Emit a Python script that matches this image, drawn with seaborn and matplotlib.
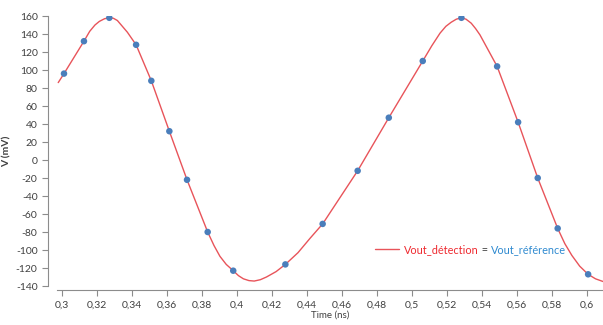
import numpy as np
import pandas as pd
import seaborn as sns
import matplotlib.pyplot as plt

sns.set_theme(style="white")
plt.rcParams['font.family'] = ['Lato', 'DejaVu Sans']

# Vout_détection curve
curve_t = [0.298, 0.3013, 0.3127, 0.316, 0.319, 0.3215, 0.3245, 0.3272, 0.3295,
           0.3318, 0.334, 0.3375, 0.3425, 0.3512, 0.3615, 0.3716, 0.3834, 0.387,
           0.3904, 0.394, 0.398, 0.401, 0.4038, 0.407, 0.41, 0.4135, 0.417,
           0.4225, 0.4278, 0.435, 0.4419, 0.4491, 0.4691, 0.4869, 0.5063,
           0.5115, 0.5162, 0.5195, 0.5225, 0.5255, 0.5284, 0.531, 0.534,
           0.5365, 0.539, 0.5488, 0.5608, 0.572, 0.5834, 0.5875, 0.5915,
           0.596, 0.6008, 0.605, 0.6093]
curve_v = [86, 96, 132, 143, 150, 154, 157, 158, 157.5,
           155, 150, 142, 128, 88, 32, -22, -80, -95,
           -107, -116, -123, -128.5, -132, -134, -134.5, -133, -130,
           -124, -116, -103, -87, -71, -12, 47, 110,
           127, 141, 148.5, 153, 156.5, 158, 156.5, 152,
           146, 139, 104, 42, -20, -76, -93, -106,
           -118, -127, -132, -135]

# Vout_référence sample points
ref_t = [0.3013, 0.3127, 0.3272, 0.3425, 0.3512, 0.3615, 0.3716, 0.3834,
         0.398, 0.4278, 0.4491, 0.4691, 0.4869, 0.5063, 0.5284, 0.5488,
         0.5608, 0.572, 0.5834, 0.6008]
ref_v = [96, 132, 158, 128, 88, 32, -22, -80,
         -123, -116, -71, -12, 47, 110, 158, 104,
         42, -20, -76, -127]

x_ticks = np.round(np.arange(0.30, 0.601, 0.02), 2)
y_ticks = np.arange(-140, 161, 20)

RED = '#e8545a'
BLUE = '#4a7ebb'
GREY = '#8c8c8c'
TXT = '#404040'


def fmt(v):
    return f"{v:g}".replace('.', ',')


def main():
    fig = plt.figure(figsize=(6.03, 3.25), dpi=100)
    ax = fig.add_axes([57 / 603, 1 - 286 / 325, 1 - 57 / 603, (286 - 16) / 325])

    curve = pd.DataFrame({'t': curve_t, 'v': curve_v})
    ref = pd.DataFrame({'t': ref_t, 'v': ref_v})

    sns.lineplot(data=curve, x='t', y='v', ax=ax, color=RED, lw=1.0,
                 label='Vout_détection', zorder=2)
    sns.scatterplot(data=ref, x='t', y='v', ax=ax, color=BLUE, s=22,
                    edgecolor='none', zorder=3, legend=False)

    ax.set_xlim(0.2973, 0.6093)
    ax.set_ylim(-140, 160)
    ax.set_xticks(x_ticks)
    ax.set_xticklabels([fmt(v) for v in x_ticks])
    ax.set_yticks(y_ticks)
    ax.set_yticklabels([fmt(v) for v in y_ticks])

    # excel-like axes
    for s in ['top', 'right']:
        ax.spines[s].set_visible(False)
    ax.spines['left'].set_position(('outward', 6.5))
    ax.spines['bottom'].set_position(('outward', 3))
    for s in ['left', 'bottom']:
        ax.spines[s].set_color(GREY)
        ax.spines[s].set_linewidth(0.8)
    ax.tick_params(axis='both', direction='out', length=4.5, width=0.8,
                   color=GREY, labelsize=7.5, labelcolor=TXT, pad=3,
                   left=True, bottom=True)

    ax.set_xlabel('Time (ns)', fontsize=7, color=TXT, labelpad=1)
    ax.set_ylabel('V (mV)', fontsize=7.5, color=TXT, fontweight='bold', labelpad=3)

    # legend: red line + "Vout_détection", then "=" and "Vout_référence"
    leg = ax.legend(loc='lower left', bbox_to_anchor=(0.575, 0.1), frameon=False,
                    handlelength=2.2, handletextpad=0.45, fontsize=7.8,
                    borderaxespad=0)
    txt = leg.get_texts()[0]
    txt.set_color('#ee2a30')

    fig.canvas.draw()
    r = fig.canvas.get_renderer()
    inv = ax.transAxes.inverted()
    bb = txt.get_window_extent(r)
    x1, y0 = inv.transform((bb.x1, bb.y0))
    eq = ax.text(x1, y0, ' = ', transform=ax.transAxes, va='bottom', ha='left',
                 fontsize=7.8, color=TXT)
    fig.canvas.draw()
    bb = eq.get_window_extent(r)
    x1, _ = inv.transform((bb.x1, bb.y0))
    ax.text(x1, y0, 'Vout_référence', transform=ax.transAxes, va='bottom',
            ha='left', fontsize=7.8, color='#2f8ad0')

    fig.savefig('out.png', dpi=100)
    plt.close(fig)


if __name__ == '__main__':
    main()
